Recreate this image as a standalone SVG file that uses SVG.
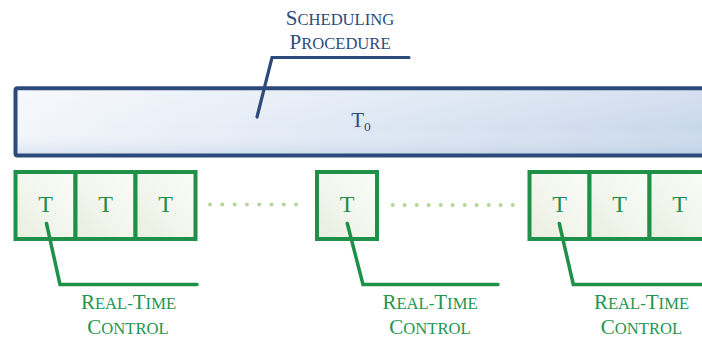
<svg xmlns="http://www.w3.org/2000/svg" width="702" height="338" viewBox="0 0 702 338">
  <style>
    .serif { font-family: "Liberation Serif", "Times New Roman", serif; }
    .blue-txt { fill: #2e4c7d; }
    .green-txt { fill: #23954f; }
    .cap { font-size: 21px; }
    .sc { font-size: 16.6px; }
    .cell { fill: url(#cellFill); stroke: #1f9048; stroke-width: 4; }
    .cell-t { font-size: 24px; fill: #1f9048; text-anchor: middle; }
    .lead-green { fill: none; stroke: #1f9048; stroke-width: 3.5; stroke-linecap: round; stroke-linejoin: miter; }
    .lead-blue { fill: none; stroke: #2c4a7c; stroke-width: 3.2; stroke-linecap: round; stroke-linejoin: miter; }
    .dot { fill: #b6d59b; }
  </style>
  <defs>
    <linearGradient id="barFill" x1="0" y1="0" x2="1" y2="0">
      <stop offset="0" stop-color="#f3f6fb"/>
      <stop offset="0.5" stop-color="#dde7f3"/>
      <stop offset="1" stop-color="#c6d6ea"/>
    </linearGradient>
    <linearGradient id="barShade" x1="0" y1="0" x2="0" y2="1">
      <stop offset="0" stop-color="#ffffff" stop-opacity="0.25"/>
      <stop offset="0.6" stop-color="#ffffff" stop-opacity="0"/>
      <stop offset="1" stop-color="#a9c0dc" stop-opacity="0.35"/>
    </linearGradient>
    <linearGradient id="cellFill" x1="0" y1="1" x2="1" y2="0">
      <stop offset="0" stop-color="#e8eedf"/>
      <stop offset="0.55" stop-color="#f4f7ef"/>
      <stop offset="1" stop-color="#fafcf7"/>
    </linearGradient>
  </defs>

  <!-- scheduling procedure bar -->
  <g id="scheduling-bar">
    <rect x="15.5" y="88.3" width="720" height="67.2" rx="2" fill="url(#barFill)"/>
    <rect x="15.5" y="88.3" width="720" height="67.2" rx="2" fill="url(#barShade)" stroke="#2c4a7c" stroke-width="4"/>
    <text class="serif blue-txt" x="361" y="127" text-anchor="middle" font-size="21">T<tspan font-size="13.5" dy="4">0</tspan></text>
  </g>

  <g id="scheduling-label" class="serif blue-txt" text-anchor="middle">
    <text x="340" y="25"><tspan class="cap">S</tspan><tspan class="sc">CHEDULING</tspan></text>
    <text x="340" y="48.5"><tspan class="cap">P</tspan><tspan class="sc">ROCEDURE</tspan></text>
  </g>

  <!-- real-time control slots -->
  <g id="slots-left">
    <rect class="cell" x="15.5" y="172" width="60" height="67"/>
    <rect class="cell" x="75.5" y="172" width="60" height="67"/>
    <rect class="cell" x="135.5" y="172" width="60" height="67"/>
    <text class="serif cell-t" x="45.5" y="212">T</text>
    <text class="serif cell-t" x="105.5" y="212">T</text>
    <text class="serif cell-t" x="165.5" y="212">T</text>
  </g>

  <g id="slot-middle">
    <rect class="cell" x="317" y="172" width="60" height="67"/>
    <text class="serif cell-t" x="347" y="212">T</text>
  </g>

  <g id="slots-right">
    <rect class="cell" x="529.5" y="172" width="60" height="67"/>
    <rect class="cell" x="589.5" y="172" width="60" height="67"/>
    <rect class="cell" x="649.5" y="172" width="60" height="67"/>
    <text class="serif cell-t" x="559.5" y="212">T</text>
    <text class="serif cell-t" x="619.5" y="212">T</text>
    <text class="serif cell-t" x="679.5" y="212">T</text>
  </g>

  <!-- ellipsis dots between slot groups -->
  <g id="gap-dots">
    <circle class="dot" cx="210" cy="204.5" r="2"/>
    <circle class="dot" cx="222.3" cy="204.5" r="2"/>
    <circle class="dot" cx="234.6" cy="204.5" r="2"/>
    <circle class="dot" cx="246.9" cy="204.5" r="2"/>
    <circle class="dot" cx="259.2" cy="204.5" r="2"/>
    <circle class="dot" cx="271.5" cy="204.5" r="2"/>
    <circle class="dot" cx="283.8" cy="204.5" r="2"/>
    <circle class="dot" cx="296.1" cy="204.5" r="2"/>

    <circle class="dot" cx="392.7" cy="205" r="2"/>
    <circle class="dot" cx="404.7" cy="205" r="2"/>
    <circle class="dot" cx="416.7" cy="205" r="2"/>
    <circle class="dot" cx="428.7" cy="205" r="2"/>
    <circle class="dot" cx="440.7" cy="205" r="2"/>
    <circle class="dot" cx="452.7" cy="205" r="2"/>
    <circle class="dot" cx="464.7" cy="205" r="2"/>
    <circle class="dot" cx="476.7" cy="205" r="2"/>
    <circle class="dot" cx="488.7" cy="205" r="2"/>
    <circle class="dot" cx="500.7" cy="205" r="2"/>
    <circle class="dot" cx="512.7" cy="205" r="2"/>
  </g>

  <!-- leader lines -->
  <g id="connectors">
    <polyline class="lead-blue" points="257,117 272,57.5 409,57.5"/>
    <polyline class="lead-green" points="46.5,223.5 60,284.5 197,284.5"/>
    <polyline class="lead-green" points="347.3,223.5 363,284.5 498,284.5"/>
    <polyline class="lead-green" points="559.3,223.5 573.3,284.5 720,284.5"/>
  </g>

  <g id="label-rt-1" class="serif green-txt" text-anchor="middle">
    <text x="128.5" y="309"><tspan class="cap">R</tspan><tspan class="sc">EAL</tspan><tspan class="sc">-</tspan><tspan class="cap">T</tspan><tspan class="sc">IME</tspan></text>
    <text x="128" y="334"><tspan class="cap">C</tspan><tspan class="sc">ONTROL</tspan></text>
  </g>
  <g id="label-rt-2" class="serif green-txt" text-anchor="middle">
    <text x="430" y="309"><tspan class="cap">R</tspan><tspan class="sc">EAL</tspan><tspan class="sc">-</tspan><tspan class="cap">T</tspan><tspan class="sc">IME</tspan></text>
    <text x="430" y="334"><tspan class="cap">C</tspan><tspan class="sc">ONTROL</tspan></text>
  </g>
  <g id="label-rt-3" class="serif green-txt" text-anchor="middle">
    <text x="641.5" y="309"><tspan class="cap">R</tspan><tspan class="sc">EAL</tspan><tspan class="sc">-</tspan><tspan class="cap">T</tspan><tspan class="sc">IME</tspan></text>
    <text x="641.5" y="334"><tspan class="cap">C</tspan><tspan class="sc">ONTROL</tspan></text>
  </g>
</svg>
